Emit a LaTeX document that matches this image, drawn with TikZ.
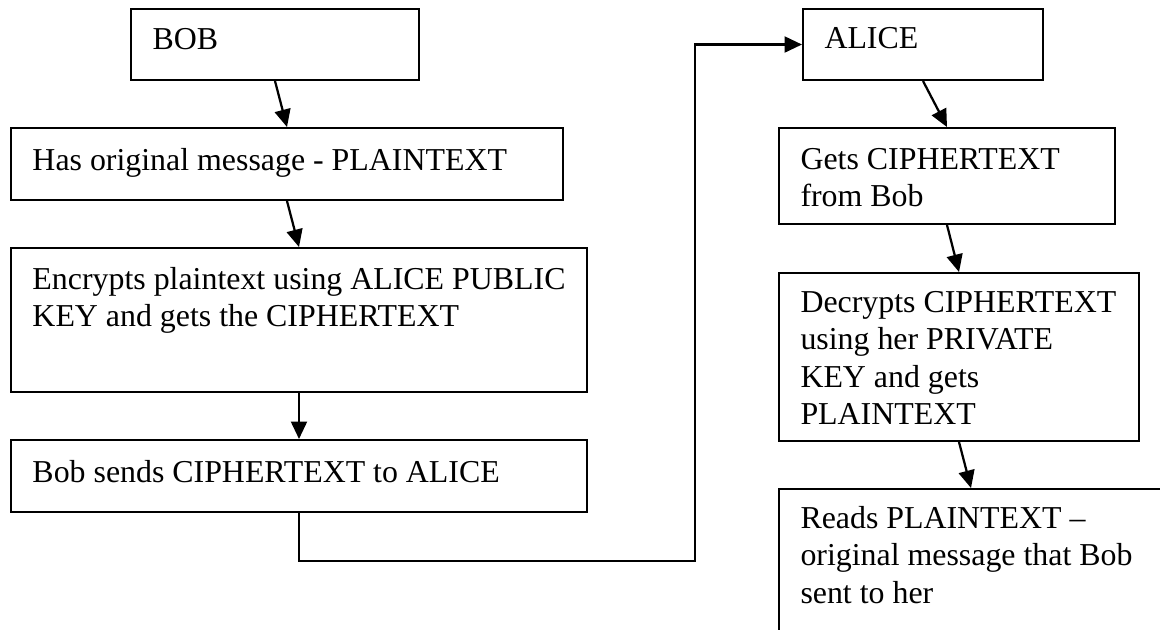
\documentclass[tikz,border=0pt]{standalone}
\usepackage{fontspec}
\setmainfont{Liberation Serif}
\usetikzlibrary{arrows.meta}
\tikzset{
  boxnode/.style={draw=black, line width=0.8pt, rectangle, inner sep=0pt},
  txtnode/.style={anchor=base west, inner sep=0pt, font=\fontsize{12.75}{15}\selectfont},
  arr/.style={draw=black, line width=0.9pt, -{Triangle[length=7pt,width=6.4pt]}}
}
\newcommand{\lines}[1]{\parbox[t]{12cm}{\raggedright\fontsize{12.75}{15}\selectfont #1}}
\begin{document}
\begin{tikzpicture}[x=0.4pt,y=-0.4pt]
\clip (0,0) rectangle (1160,629);
\fill[white] (0,0) rectangle (1160,629);
% left column boxes
\node[boxnode, minimum width=115.2pt, minimum height=28.4pt] (bob) at (275,44.5) {};
\node[boxnode, minimum width=220.8pt, minimum height=28.8pt] (has) at (287,164) {};
\node[boxnode, minimum width=230.4pt, minimum height=57.6pt] (enc) at (299,320) {};
\node[boxnode, minimum width=230.4pt, minimum height=28.8pt] (snd) at (299,476) {};
% right column boxes
\node[boxnode, minimum width=96pt, minimum height=28.4pt] (alice) at (923,44.5) {};
\node[boxnode, minimum width=134.4pt, minimum height=38.4pt] (gets) at (947,176) {};
\node[boxnode, minimum width=144pt, minimum height=67.2pt] (dec) at (959,357) {};
\node[boxnode, minimum width=153.6pt, minimum height=80pt] (reads) at (971,589) {};
% texts
\node[txtnode] (tbob) at (152,49) {\lines{BOB}};
\node[txtnode] (thas) at (32,170) {\lines{Has original message - PLAINTEXT}};
\node[txtnode] (tenc) at (32,289) {\lines{Encrypts plaintext using ALICE PUBLIC\\KEY and gets the CIPHERTEXT}};
\node[txtnode] (tsnd) at (32,482) {\lines{Bob sends CIPHERTEXT to ALICE}};
\node[txtnode] (talice) at (824,48) {\lines{ALICE}};
\node[txtnode] (tgets) at (800,169) {\lines{Gets CIPHERTEXT\\from Bob}};
\node[txtnode] (tdec) at (800,312) {\lines{Decrypts CIPHERTEXT\\using her PRIVATE\\KEY and gets\\PLAINTEXT}};
\node[txtnode] (treads) at (800,528) {\lines{Reads PLAINTEXT --\\original message that Bob\\sent to her}};
% connectors
\draw[arr] (bob.south) -- (has.north);
\draw[arr] (has.south) -- (enc.north);
\draw[arr] (enc.south) -- (snd.north);
\coordinate (turn) at (695,561);
\draw[arr] (snd.south) |- (turn) |- (alice.west);
\draw[arr] (alice.south) -- (gets.north);
\draw[arr] (gets.south) -- (dec.north);
\draw[arr] (dec.south) -- (reads.north);
\end{tikzpicture}
\end{document}
